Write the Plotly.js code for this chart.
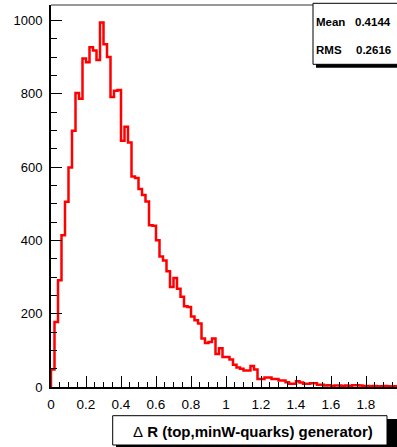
<!DOCTYPE html>
<html>
<head>
<meta charset="utf-8">
<script src="https://cdn.plot.ly/plotly-3.0.1.min.js"></script>
<style>
html,body{margin:0;padding:0;overflow:hidden;background:#fff;}
#chart{width:420px;height:447px;}
</style>
</head>
<body>
<div id="chart"></div>
<script>
// Histogram: 100 bins from 0 to 2
const binLow = 0;
const binHigh = 2;
const binCounts = [
  48,177,291,414,505,599,699,802,786,896,
  886,927,918,892,994,935,900,791,808,810,
  672,710,667,574,570,540,524,506,441,440,
  400,356,345,316,273,297,268,246,220,218,
  192,182,173,132,120,123,132,90,106,82,
  82,75,61,53,50,45,45,57,48,22,
  22,26,26,22,22,18,18,13,9,9,
  16,12,9,9,10,10,6,6,4,5,
  3,4,4,3,4,3,5,5,4,3,
  3,2,3,2,2,3,2,1,2,2
];
const statLabels = ["Mean", "RMS"];
const statValues = ["0.4144", "0.2616"];
const xTitle = "\u0394<b> R (top,minW-quarks) generator)</b>";
const yTickVals = [0,200,400,600,800,1000];
const xTickVals = [0,0.2,0.4,0.6,0.8,1,1.2,1.4,1.6,1.8,2];
const xTickText = ["0","0.2","0.4","0.6","0.8","1","1.2","1.4","1.6","1.8","2"];

const nb = binCounts.length;
const bw = (binHigh - binLow) / nb;
const xs = [binLow];
const ys = [0];
for (let i = 0; i < nb; i++) { xs.push(binLow + i * bw); ys.push(binCounts[i]); }
xs.push(binHigh); ys.push(binCounts[nb - 1]);

// plot-area geometry in pixels (for overlay boxes)
const L = 51, T = 5, W = 350, H = 382;
const px = x => (x - L) / W;
const py = y => (T + H - y) / H;

const trace = {
  x: xs, y: ys, type: 'scatter', mode: 'lines',
  line: {shape: 'hv', color: '#ff0000', width: 2.5},
  hoverinfo: 'skip', showlegend: false
};

const font = {family: 'Liberation Sans, Arial, sans-serif', color: '#000'};

const layout = {
  width: 420, height: 447,
  margin: {l: L, r: 420 - L - W, t: T, b: 447 - T - H, pad: 0},
  paper_bgcolor: '#fff', plot_bgcolor: '#fff',
  showlegend: false,
  xaxis: {
    range: [binLow, binHigh], showgrid: false, zeroline: false,
    showline: true, linecolor: '#000', linewidth: 2, mirror: false,
    tickmode: 'array', tickvals: xTickVals, ticktext: xTickText,
    ticks: 'inside', ticklen: 11, tickwidth: 1, tickcolor: '#000',
    minor: {dtick: 0.05, ticks: 'inside', ticklen: 5, tickwidth: 1, tickcolor: '#000', showgrid: false},
    tickfont: Object.assign({size: 13.5}, font),
    ticklabelstandoff: 4
  },
  yaxis: {
    range: [0, 1042], showgrid: false, zeroline: false,
    showline: true, linecolor: '#000', linewidth: 2, mirror: false,
    tickmode: 'array', tickvals: yTickVals,
    ticks: 'inside', ticklen: 11, tickwidth: 1, tickcolor: '#000',
    minor: {dtick: 50, ticks: 'inside', ticklen: 6, tickwidth: 1, tickcolor: '#000', showgrid: false},
    tickfont: Object.assign({size: 13}, font),
    ticklabelstandoff: 4
  },
  shapes: [
    {type: 'line', xref: 'paper', yref: 'paper', x0: 0, x1: 1, y0: 1, y1: 1, line: {color: '#333', width: 1}},
    {type: 'rect', xref: 'paper', yref: 'paper', x0: px(316), x1: px(440), y0: py(67.7), y1: py(7),
     fillcolor: '#000', line: {width: 0}},
    {type: 'rect', xref: 'paper', yref: 'paper', x0: px(313), x1: px(436), y0: py(64.3), y1: py(3.3),
     fillcolor: '#fff', line: {color: '#000', width: 1}},
    {type: 'rect', xref: 'paper', yref: 'paper', x0: px(116), x1: px(440), y0: py(460), y1: py(419),
     fillcolor: '#000', line: {width: 0}},
    {type: 'rect', xref: 'paper', yref: 'paper', x0: px(112.7), x1: px(387), y0: py(445), y1: py(415.7),
     fillcolor: '#fff', line: {color: '#000', width: 1}}
  ],
  annotations: [
    {xref: 'paper', yref: 'paper', x: px(314), y: py(22), xanchor: 'left', yanchor: 'middle',
     text: '<b>' + statLabels[0] + '</b>', showarrow: false, font: Object.assign({size: 11.5}, font)},
    {xref: 'paper', yref: 'paper', x: px(393), y: py(22), xanchor: 'right', yanchor: 'middle',
     text: '<b>' + statValues[0] + '</b>', showarrow: false, font: Object.assign({size: 11.5}, font)},
    {xref: 'paper', yref: 'paper', x: px(314), y: py(50), xanchor: 'left', yanchor: 'middle',
     text: '<b>' + statLabels[1] + '</b>', showarrow: false, font: Object.assign({size: 11.5}, font)},
    {xref: 'paper', yref: 'paper', x: px(393), y: py(50), xanchor: 'right', yanchor: 'middle',
     text: '<b>' + statValues[1] + '</b>', showarrow: false, font: Object.assign({size: 11.5}, font)},
    {xref: 'paper', yref: 'paper', x: px(252.5), y: py(431), xanchor: 'center', yanchor: 'middle',
     text: xTitle, showarrow: false, font: Object.assign({size: 15}, font)}
  ]
};

Plotly.newPlot('chart', [trace], layout, {displayModeBar: false, staticPlot: true});
</script>
</body>
</html>
